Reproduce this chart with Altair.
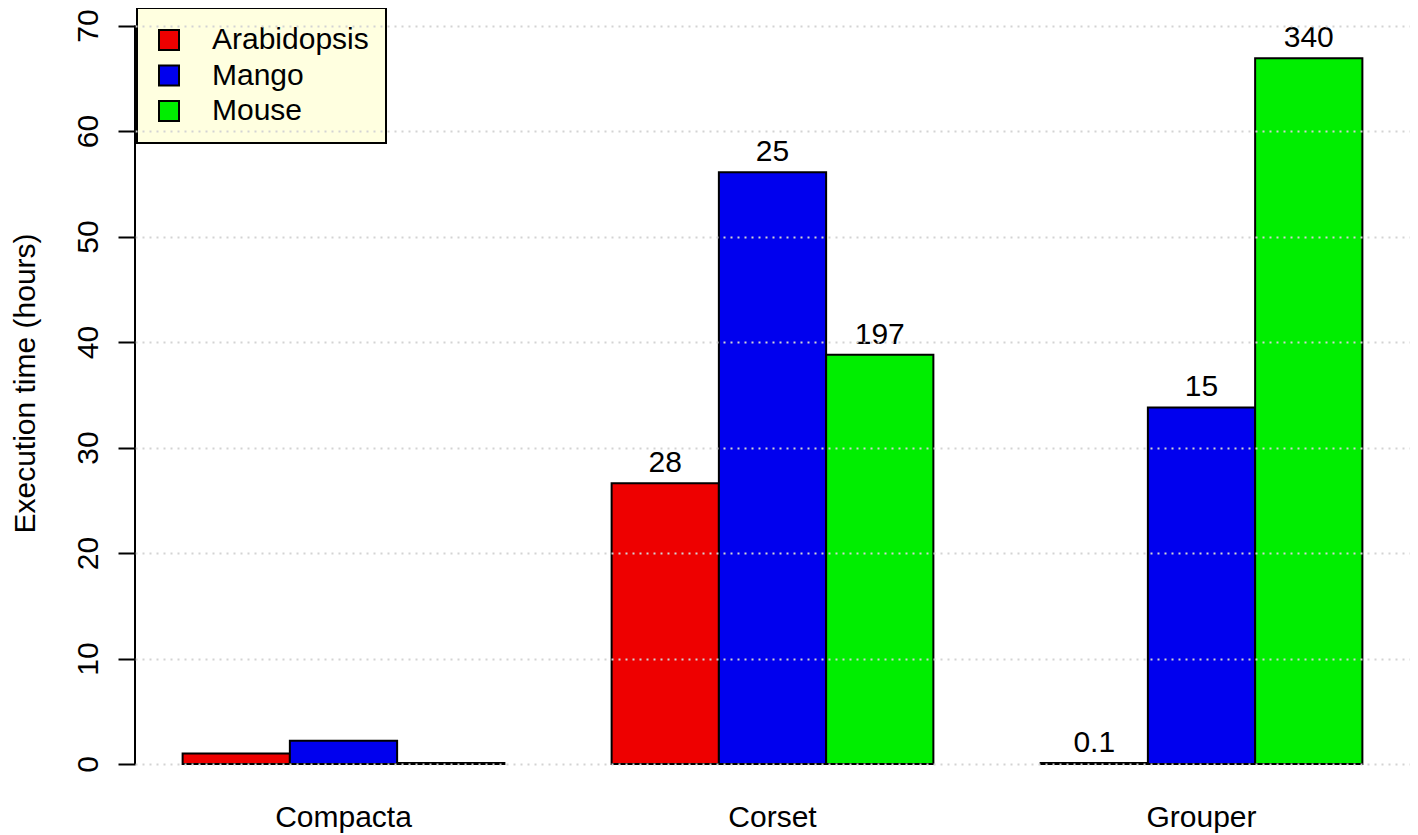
import altair as alt
import pandas as pd

groups = ["Compacta", "Corset", "Grouper"]
species = ["Arabidopsis", "Mango", "Mouse"]
arabidopsis = [1.0, 26.6, 0.1]
mango = [2.2, 56.1, 33.8]
mouse = [0.1, 38.8, 66.9]
labels_arabidopsis = ["", "28", "0.1"]
labels_mango = ["", "25", "15"]
labels_mouse = ["", "197", "340"]
colors = ["#EE0000", "#0000EE", "#00EE00"]
y_ticks = [0, 10, 20, 30, 40, 50, 60, 70]

rows = []
for i, g in enumerate(groups):
    for s, vals, labs in zip(species, [arabidopsis, mango, mouse],
                             [labels_arabidopsis, labels_mango, labels_mouse]):
        rows.append({"Group": g, "Species": s, "Hours": vals[i], "Label": labs[i]})
df = pd.DataFrame(rows)

FONT = "Liberation Sans"
FS = 30

x = alt.X("Group:N", sort=groups,
          scale=alt.Scale(paddingInner=0.25, paddingOuter=0.111),
          axis=alt.Axis(title=None, labelAngle=0, domain=False, ticks=False, tickSize=0,
                        labelPadding=38, labelFontSize=FS, labelColor="black",
                        labelBaseline="top"))
xo = alt.XOffset("Species:N", sort=species,
                 scale=alt.Scale(paddingInner=0, paddingOuter=0))
y = alt.Y("Hours:Q",
          scale=alt.Scale(domain=[0, 71.66], nice=False, zero=True),
          axis=alt.Axis(values=y_ticks, title="Execution time (hours)", domain=False,
                        tickSize=17, tickWidth=2, tickColor="black",
                        labelAngle=270, labelAlign="center", labelBaseline="bottom",
                        labelPadding=15, labelFontSize=FS, labelColor="black",
                        grid=True, gridColor="#D3D3D3", gridDash=[2, 5], gridWidth=2,
                        zindex=1,
                        titleFontSize=FS, titleFontWeight="normal", titleColor="black",
                        titleAngle=270, titleX=-125, titleY=375,
                        titleAlign="center", titleBaseline="top"))

color = alt.Color("Species:N", sort=species,
                  scale=alt.Scale(domain=species, range=colors),
                  legend=alt.Legend(title=None, orient="none", legendX=2, legendY=0,
                                    fillColor="#FFFFE0", strokeColor="black",
                                    symbolType="square", symbolSize=400,
                                    symbolStrokeColor="black", symbolStrokeWidth=2,
                                    symbolOpacity=1,
                                    labelFontSize=FS, labelOffset=28, labelColor="black",
                                    padding=17, rowPadding=5.5))

base = alt.Chart(df)

bars = base.mark_bar(stroke="black", strokeWidth=2, opacity=1).encode(
    x=x, xOffset=xo, y=y, color=color
)

texts = base.transform_filter("datum.Label != ''").mark_text(
    fontSize=FS, baseline="alphabetic", align="center", dy=-11, color="black"
).encode(x=x, xOffset=xo, y=y, text="Label:N")

axis_line = alt.Chart(pd.DataFrame({"a": [0]})).mark_rule(
    color="black", strokeWidth=2
).encode(x=alt.value(0), y=alt.datum(0), y2=alt.datum(70))

chart = alt.layer(bars, texts, axis_line).properties(
    width=1275, height=756,
    autosize=alt.AutoSizeParams(type="none"),
    padding={"left": 127, "top": 0, "right": 0, "bottom": 71},
).configure(font=FONT).configure_view(stroke=None).configure_legend(strokeWidth=2)

chart.save("out.html", embed_options={"renderer": "svg", "actions": False})
